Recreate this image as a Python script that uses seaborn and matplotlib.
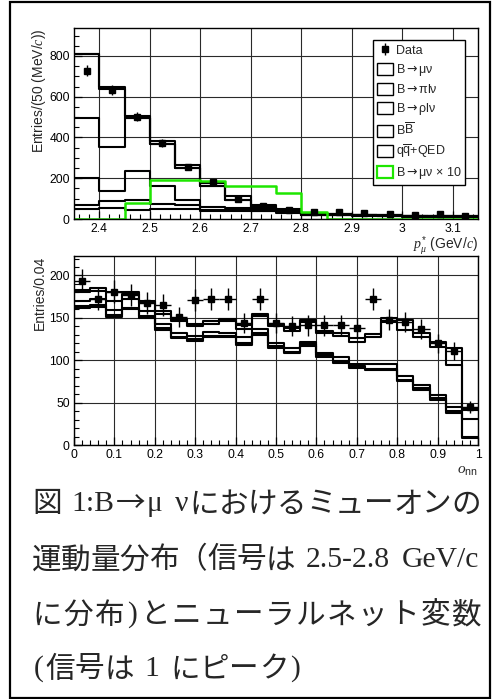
import numpy as np
import pandas as pd
import matplotlib
matplotlib.use("Agg")
import matplotlib.pyplot as plt
from matplotlib.patches import Patch, Rectangle
from matplotlib.ticker import MultipleLocator, FixedLocator, FormatStrFormatter
import seaborn as sns

# ---------------- muon momentum p*_mu (GeV/c), 50 MeV/c bins ----------------
p_edges = [2.35, 2.40, 2.45, 2.50, 2.55, 2.60, 2.65, 2.70, 2.75, 2.80,
           2.85, 2.90, 2.95, 3.00, 3.05, 3.10, 3.15]
p_data = [728, 632, 502, 372, 255, 180, 98, 65, 44, 34, 35, 31, 26, 19, 23, 15]
p_qq = [51, 54, 46, 51, 49, 40, 41, 37, 30, 18, 18, 16, 14, 12, 11, 10]
p_rho = [18, 36, 49, 24, 21, 5, 4, 2, 3, 2, 2, 2, 1, 1, 1, 1]
p_pi = [131, 46, 142, 85, 25, 12, 7, 8, 3, 2, 2, 2, 2, 1, 1, 1]
p_xu = [295, 215, 258, 209, 156, 103, 41, 10, 4, 3, 3, 2, 2, 2, 1, 1]
p_bb = [313, 287, 0, 0, 0, 0, 0, 0, 0, 0, 0, 0, 0, 0, 0, 0]
p_munu = [0, 9, 8, 13, 12, 17, 20, 12, 9, 3, 0, 0, 0, 0, 0, 0]
p_munu_x10 = [0, 0, 77, 190, 190, 185, 164, 164, 128, 33, 0, 0, 0, 0, 0, 0]

# ---------------- neural-net output o_nn, 0.04 bins ----------------
nn_edges = [0.00, 0.04, 0.08, 0.12, 0.16, 0.20, 0.24, 0.28, 0.32, 0.36, 0.40,
            0.44, 0.48, 0.52, 0.56, 0.60, 0.64, 0.68, 0.72, 0.76, 0.80,
            0.84, 0.88, 0.92, 0.96, 1.00]
nn_data = [194, 172, 181, 177, 168, 165, 151, 171, 172, 172, 144, 172, 144,
           140, 141, 141, 142, 138, 172, 148, 145, 137, 120, 111, 45]
nn_qq = [162, 163, 151, 160, 150, 136, 126, 123, 127, 127, 118, 130, 115,
         108, 117, 104, 97, 91, 88, 88, 75, 65, 53, 38, 8]
nn_rho = [2, 2, 2, 2, 2, 2, 2, 2, 2, 2, 2, 2, 2,
          2, 2, 2, 2, 2, 2, 2, 2, 2, 2, 2, 2]
nn_pi = [6, 7, 6, 10, 6, 5, 4, 4, 4, 3, 7, 5, 3,
         4, 2, 3, 5, 3, 5, 6, 4, 4, 4, 5, 21]
nn_xu = [10, 10, 11, 6, 9, 12, 14, 11, 10, 14, 10, 15, 20,
         21, 24, 23, 25, 25, 32, 49, 55, 57, 57, 49, 10]
nn_munu = [3, 3, 11, 3, 3, 3, 3, 3, 3, 3, 4, 3, 3,
           3, 3, 3, 3, 5, 4, 5, 12, 4, 6, 20, 3]

legend_labels = ["Data", r"B$\mathtt{\rightarrow}$μν", r"B$\mathtt{\rightarrow}$πlν",
                 r"B$\mathtt{\rightarrow}$ρlν", r"B$\overline{\mathrm{B}}$",
                 r"q$\overline{\mathrm{q}}$+QED", r"B$\mathtt{\rightarrow}$μν × 10"]

caption_lines = [
    "図 1:B→μ νにおけるミューオンの",
    "運動量分布（信号は 2.5-2.8 GeV/c",
    "に分布)とニューラルネット変数",
    "(信号は 1 にピーク)",
]

# ---------------- style ----------------
W, H, DPI = 495, 699, 100
sns.set_style("ticks")
plt.rcParams.update({
    "font.family": ["Liberation Sans", "DejaVu Sans"],
    "mathtext.fontset": "custom",
    "mathtext.rm": "Liberation Sans",
    "mathtext.sf": "Liberation Sans",
    "mathtext.it": "Liberation Serif:italic",
    "mathtext.bf": "Liberation Sans:bold",
    "mathtext.tt": "DejaVu Sans",
    "axes.edgecolor": "black",
    "axes.linewidth": 1.0,
    "xtick.color": "black",
    "ytick.color": "black",
})

LW = 1.5
GREEN = "#1ee600"

fig = plt.figure(figsize=(W / DPI, H / DPI), dpi=DPI)


def fig_rect(x0, y0, x1, y1):
    return [x0 / W, 1 - y1 / H, (x1 - x0) / W, (y1 - y0) / H]


def stack_outlines(ax, edges, layers):
    """Stacked histogram drawn as black step outlines; first entry is the top layer."""
    edges = [float(e) for e in edges]
    centers = [0.5 * (a + b) for a, b in zip(edges[:-1], edges[1:])]
    frames = [pd.DataFrame({"x": centers, "w": [float(v) for v in vals],
                            "comp": name})
              for name, vals in layers]
    df = pd.concat(frames, ignore_index=True)
    order = [name for name, _ in layers]
    sns.histplot(data=df, x="x", weights="w", hue="comp", hue_order=order,
                 bins=edges, multiple="stack", element="step", fill=False,
                 palette={n: "black" for n in order}, linewidth=LW,
                 legend=False, ax=ax)


def style_axes(ax, xmajor, xminor, ymajor, yminor, fmt):
    ax.xaxis.set_major_locator(FixedLocator(xmajor))
    ax.xaxis.set_minor_locator(MultipleLocator(xminor))
    ax.yaxis.set_major_locator(MultipleLocator(ymajor))
    ax.yaxis.set_minor_locator(MultipleLocator(yminor))
    ax.xaxis.set_major_formatter(FormatStrFormatter(fmt))
    ax.tick_params(which="both", direction="in", top=False, right=False,
                   labelsize=8.7, pad=3)
    ax.tick_params(which="major", length=6, width=0.9)
    ax.tick_params(which="minor", length=3.5, width=0.8)
    ax.grid(True, which="major", color="#2a2a2a", linewidth=0.8)
    ax.set_axisbelow(True)
    for s in ax.spines.values():
        s.set_visible(True)
        s.set_linewidth(1.0)


# ---------------- top panel: p*_mu ----------------
ax1 = fig.add_axes(fig_rect(74, 28, 478, 219))
stack_outlines(ax1, p_edges, [("B→μν", p_munu), ("BB", p_bb), ("Xu", p_xu),
                              ("B→πlν", p_pi), ("B→ρlν", p_rho),
                              ("qq+QED", p_qq)])
pc = [0.5 * (a + b) for a, b in zip(p_edges[:-1], p_edges[1:])]
sig_df = pd.DataFrame({"x": pc, "w": [float(v) for v in p_munu_x10]})
sns.histplot(data=sig_df, x="x", weights="w", bins=p_edges, element="step",
             fill=False, color=GREEN, linewidth=LW + 0.3, ax=ax1)
data_h = ax1.errorbar(pc, p_data, yerr=np.sqrt(p_data), fmt="s", color="black",
                      ms=4.8, elinewidth=1.0, capsize=0, zorder=5)
ax1.set_xlim(2.35, 3.15)
ax1.set_ylim(0, 937)
style_axes(ax1, [2.4, 2.5, 2.6, 2.7, 2.8, 2.9, 3.0, 3.1], 0.02, 200, 50, "%g")
ax1.set_ylabel("Entries/(50 (MeV/$c$))", fontsize=10, loc="top")
ax1.yaxis.set_label_coords(-0.064, 1.0)
ax1.set_xlabel(r"$p^{*}_{\mu}$ (GeV/$c$)", fontsize=10, loc="right")
ax1.xaxis.set_label_coords(1.0, -0.083)

handles = [data_h] + [Patch(facecolor="white", edgecolor="black", linewidth=1.0)
                      for _ in range(5)] + \
          [Patch(facecolor="white", edgecolor=GREEN, linewidth=1.6)]
leg = ax1.legend(handles, legend_labels, loc="upper left",
                 bbox_to_anchor=(0.74, 0.937),
                 frameon=True, fancybox=False, framealpha=1, edgecolor="black",
                 fontsize=9, handlelength=1.3, handleheight=1.1,
                 labelspacing=0.40, borderpad=0.3, handletextpad=0.25,
                 borderaxespad=0)
leg.get_frame().set_linewidth(1.0)

# ---------------- bottom panel: o_nn ----------------
ax2 = fig.add_axes(fig_rect(74, 256, 478, 445))
stack_outlines(ax2, nn_edges, [("B→μν", nn_munu), ("Xu", nn_xu),
                               ("B→πlν", nn_pi), ("B→ρlν", nn_rho),
                               ("qq+QED", nn_qq)])
nc = [0.5 * (a + b) for a, b in zip(nn_edges[:-1], nn_edges[1:])]
ax2.errorbar(nc, nn_data, yerr=np.sqrt(nn_data), xerr=0.02, fmt="s",
             color="black", ms=4.8, elinewidth=1.0, capsize=0, zorder=5)
ax2.set_xlim(0, 1)
ax2.set_ylim(0, 223)
style_axes(ax2, [0, 0.1, 0.2, 0.3, 0.4, 0.5, 0.6, 0.7, 0.8, 0.9, 1.0],
           0.02, 50, 10, "%g")
ax2.set_ylabel("Entries/0.04", fontsize=10, loc="top")
ax2.yaxis.set_label_coords(-0.066, 1.0)
ax2.set_xlabel(r"$o_{\mathsf{nn}}$", fontsize=11, loc="right")
ax2.xaxis.set_label_coords(1.0, -0.098)

# ---------------- caption ----------------
CAP_SIZE = 21.3
LATIN = ["Liberation Serif", "Noto Sans CJK JP"]
CJK = ["Noto Sans CJK JP"]
renderer = fig.canvas.get_renderer()
em = CAP_SIZE * DPI / 72.0


def is_wide(tok):
    return len(tok) == 1 and (ord(tok) >= 0x2E80 or tok == "→")


def tokenize(text):
    tokens, run = [], ""
    for ch in text:
        if ch == " " or is_wide(ch):
            if run:
                tokens.append(run)
                run = ""
            tokens.append(ch)
        else:
            run += ch
    if run:
        tokens.append(run)
    return tokens


def caption_line(text, y_px, x0_px, x1_px, justify):
    items = []
    for tok in tokenize(text):
        if tok == " ":
            items.append((tok, None, 0.3 * em))
        elif is_wide(tok):
            t = fig.text(0, 0, tok, fontsize=CAP_SIZE, family=CJK,
                         ha="center", va="center")
            items.append((tok, t, em))
        else:
            t = fig.text(0, 0, tok, fontsize=CAP_SIZE, family=LATIN,
                         ha="center", va="center")
            w = t.get_window_extent(renderer).width + 0.12 * em
            items.append((tok, t, w))
    natural = sum(w for _, _, w in items)
    gaps = [is_wide(items[i][0]) or is_wide(items[i + 1][0])
            for i in range(len(items) - 1)]
    n = sum(gaps)
    extra = (x1_px - x0_px - natural) / n if (justify and n) else 0.0
    x = x0_px
    for i, (tok, t, w) in enumerate(items):
        if t is not None:
            t.set_position(((x + w / 2) / W, 1 - y_px / H))
        x += w
        if i < len(gaps) and gaps[i]:
            x += extra


caption_line(caption_lines[0], 504, 32, 481, True)
caption_line(caption_lines[1], 560, 32, 481, True)
caption_line(caption_lines[2], 615, 32, 481, True)
caption_line(caption_lines[3], 669, 32, 481, False)

# outer frame
fig.patches.append(Rectangle((10 / W, 1 / H), 480 / W, 696 / H,
                             transform=fig.transFigure, fill=False,
                             edgecolor="black", linewidth=1.6))

fig.savefig("out.png", dpi=DPI)
